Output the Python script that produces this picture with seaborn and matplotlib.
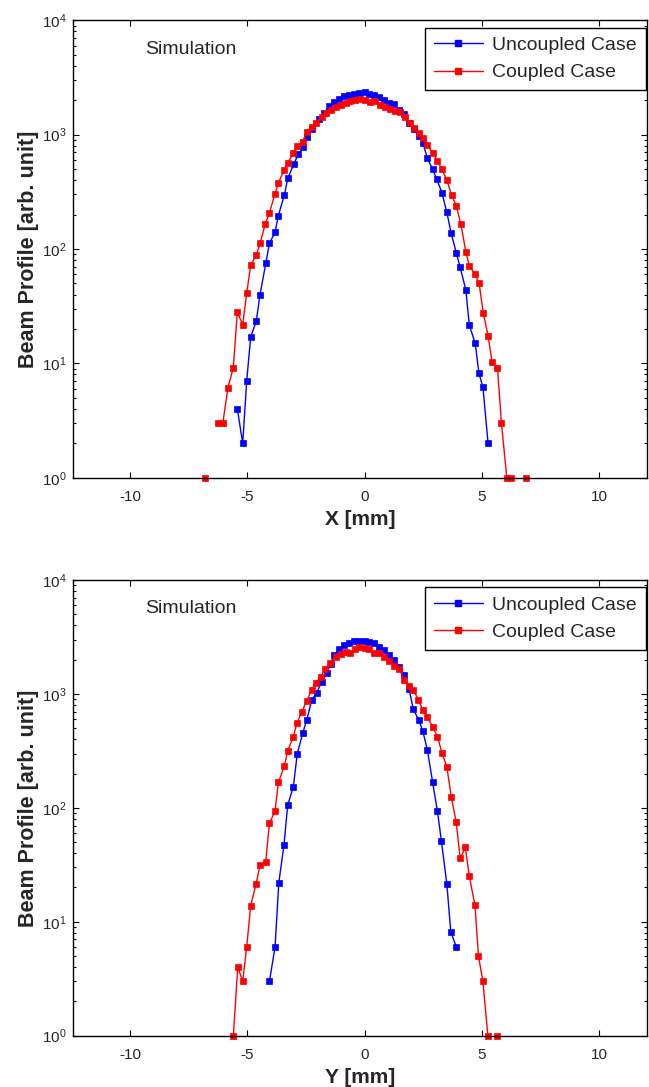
import numpy as np
import pandas as pd
import matplotlib
matplotlib.use('Agg')
import matplotlib.pyplot as plt
from matplotlib.lines import Line2D
import seaborn as sns

# ---------------- data ----------------
# 0 marks an empty bin (not drawable on a log axis -> gap in the line)
x_unc_top = [-5.43, -5.20, -5.03, -4.86, -4.62, -4.46, -4.21, -4.06, -3.82, -3.68,
             -3.42, -3.28, -3.02, -2.82, -2.61, -2.44, -2.23, -1.96, -1.73, -1.50,
             -1.29, -1.09, -0.875, -0.65, -0.44, -0.22, 0.00, 0.19, 0.41, 0.62,
             0.83, 1.06, 1.27, 1.49, 1.69, 1.89, 2.11, 2.31, 2.49, 2.68,
             2.90, 3.08, 3.30, 3.51, 3.69, 3.91, 4.08, 4.32, 4.47, 4.72,
             4.88, 5.05, 5.27]
y_unc_top = [4, 2, 7, 17, 23.5, 40, 76, 112, 140, 196,
             298, 415, 553, 680, 785, 960, 1115, 1360, 1550, 1780,
             1930, 2040, 2180, 2240, 2265, 2330, 2360, 2290, 2210, 2140,
             2000, 1900, 1850, 1640, 1510, 1260, 1115, 980, 840, 625,
             500, 408, 311, 209, 139, 93, 69, 44, 21.5, 15,
             8.2, 6.2, 2]

x_cpl_top = [-6.81, -6.60, -6.43, -6.25, -6.05, -5.83, -5.60, -5.43, -5.20, -5.03,
             -4.86, -4.63, -4.46, -4.24, -4.06, -3.83, -3.68, -3.44, -3.28, -3.04,
             -2.87, -2.64, -2.47, -2.25, -2.07, -1.83, -1.64, -1.44, -1.23, -1.02,
             -0.80, -0.62, -0.41, -0.19, 0.02, 0.23, 0.45, 0.66, 0.875, 1.09,
             1.30, 1.52, 1.73, 1.94, 2.11, 2.31, 2.51, 2.68, 2.90, 3.11,
             3.30, 3.51, 3.72, 3.91, 4.11, 4.32, 4.47, 4.72, 4.89, 5.06,
             5.27, 5.44, 5.67, 5.84, 6.07, 6.24, 6.45, 6.66, 6.87]
y_cpl_top = [1, 0, 0, 3, 3, 6.1, 9.2, 28, 21.8, 41,
             72, 88, 112, 165, 206, 302, 376, 490, 569, 687,
             795, 868, 1062, 1175, 1270, 1436, 1538, 1660, 1755, 1818,
             1905, 1980, 2010, 2040, 2010, 1930, 1980, 1830, 1755, 1690,
             1620, 1580, 1436, 1260, 1143, 1040, 929, 812, 695, 590,
             498, 400, 295, 238, 165, 95, 71, 60, 50, 27.7,
             17.5, 10.2, 9.2, 3, 1, 1, 0, 0, 1]

x_unc_bot = [-4.06, -3.82, -3.66, -3.44, -3.28, -3.04, -2.87, -2.64, -2.47, -2.25,
             -2.04, -1.83, -1.61, -1.45, -1.30, -1.09, -0.875, -0.65, -0.44, -0.22,
             0.00, 0.19, 0.41, 0.62, 0.83, 1.06, 1.26, 1.49, 1.69, 1.90,
             2.08, 2.31, 2.48, 2.68, 2.90, 3.11, 3.28, 3.51, 3.68, 3.92]
y_unc_bot = [3, 6, 22, 47, 106, 153, 300, 452, 590, 886,
             1025, 1282, 1515, 1850, 2190, 2460, 2675, 2820, 2900, 2940,
             2940, 2860, 2790, 2600, 2430, 2210, 1990, 1740, 1470, 1100,
             735, 590, 476, 322, 170, 93, 51, 21.5, 8.1, 6]

x_cpl_bot = [-5.60, -5.41, -5.20, -5.03, -4.86, -4.63, -4.46, -4.22, -4.06, -3.82,
             -3.68, -3.42, -3.28, -3.04, -2.89, -2.67, -2.47, -2.25, -2.07, -1.87,
             -1.67, -1.47, -1.23, -1.02, -0.80, -0.62, -0.41, -0.22, 0.00, 0.19,
             0.41, 0.62, 0.83, 1.06, 1.26, 1.49, 1.69, 1.90, 2.08, 2.30,
             2.48, 2.68, 2.90, 3.11, 3.30, 3.51, 3.70, 3.91, 4.08, 4.30,
             4.47, 4.71, 4.86, 5.05, 5.26, 5.47, 5.67]
y_cpl_bot = [1, 4, 3, 6, 13.8, 21.5, 31.3, 33.5, 73, 94,
             167, 233, 318, 422, 553, 700, 873, 1084, 1260, 1420,
             1650, 1860, 2130, 2240, 2350, 2280, 2470, 2570, 2535, 2470,
             2305, 2280, 2130, 1960, 1760, 1650, 1330, 1175, 1084, 885,
             725, 630, 516, 422, 305, 229, 125, 75, 36, 45,
             25, 14, 5, 3, 1, 0, 1]

series_labels = ["Uncoupled Case", "Coupled Case"]
x_labels = ["X [mm]", "Y [mm]"]
y_label = "Beam Profile [arb. unit]"
note = "Simulation"
x_ticks = [-10, -5, 0, 5, 10]

# ---------------- style ----------------
sns.set_style("ticks")
plt.rcParams['font.family'] = ['Liberation Sans', 'DejaVu Sans']
plt.rcParams['mathtext.fontset'] = 'custom'
plt.rcParams['mathtext.rm'] = 'Liberation Sans'
plt.rcParams['mathtext.it'] = 'Liberation Sans'
plt.rcParams['mathtext.default'] = 'regular'

BLUE = (0, 0, 1)
RED = (1, 0, 0)


def to_frame(x, y):
    df = pd.DataFrame({'x': x, 'y': y})
    df['seg'] = (df['y'] <= 0).cumsum()
    return df[df['y'] > 0]


fig = plt.figure(figsize=(6.49, 10.87), dpi=100)
ax_top = fig.add_axes([0.1129, 0.5605, 0.8847, 0.4208])
ax_bot = fig.add_axes([0.1129, 0.0472, 0.8847, 0.4192])

panels = [
    (ax_top, x_unc_top, y_unc_top, x_cpl_top, y_cpl_top, x_labels[0]),
    (ax_bot, x_unc_bot, y_unc_bot, x_cpl_bot, y_cpl_bot, x_labels[1]),
]

for ax, xu, yu, xc, yc, xl in panels:
    for x, y, col in [(xu, yu, BLUE), (xc, yc, RED)]:
        d = to_frame(x, y)
        sns.lineplot(data=d, x='x', y='y', units='seg', estimator=None,
                     sort=False, color=col, marker='s', markersize=4.3,
                     markeredgecolor=col, markeredgewidth=0.5, linewidth=1.0,
                     clip_on=False, legend=False, ax=ax)
    ax.set_yscale('log')
    ax.set_ylim(1, 1e4)
    ax.set_xlim(-12.43, 12.07)
    ax.set_xticks(x_ticks)
    ax.set_xticklabels([str(t) for t in x_ticks])
    ax.tick_params(which='both', direction='in', top=True, right=True,
                   labelsize=11, color='black', width=0.8)
    ax.tick_params(axis='x', pad=9)
    ax.tick_params(axis='y', pad=5)
    ax.tick_params(which='major', length=4.5)
    ax.tick_params(which='minor', length=2.5)
    ax.tick_params(axis='x', which='minor', bottom=False, top=False)
    for s in ax.spines.values():
        s.set_color('black')
        s.set_linewidth(1.0)
    ax.set_xlabel(xl, fontsize=15, fontweight='bold', labelpad=4)
    ax.set_ylabel(y_label, fontsize=15.5, fontweight='bold', labelpad=2)
    ax.text(0.125, 0.937, note, transform=ax.transAxes, fontsize=14,
            va='center', ha='left')
    handles = [Line2D([], [], color=BLUE, marker='s', markersize=4.3, lw=1.0),
               Line2D([], [], color=RED, marker='s', markersize=4.3, lw=1.0)]
    leg = ax.legend(handles, series_labels, loc='upper right',
                    bbox_to_anchor=(0.997, 0.984), borderaxespad=0,
                    fontsize=14, frameon=True, fancybox=False, framealpha=1,
                    edgecolor='black', handlelength=2.5, handletextpad=0.5,
                    labelspacing=0.5, borderpad=0.45)
    leg.get_frame().set_linewidth(1.0)

fig.savefig('out.png', dpi=100, facecolor='white')
